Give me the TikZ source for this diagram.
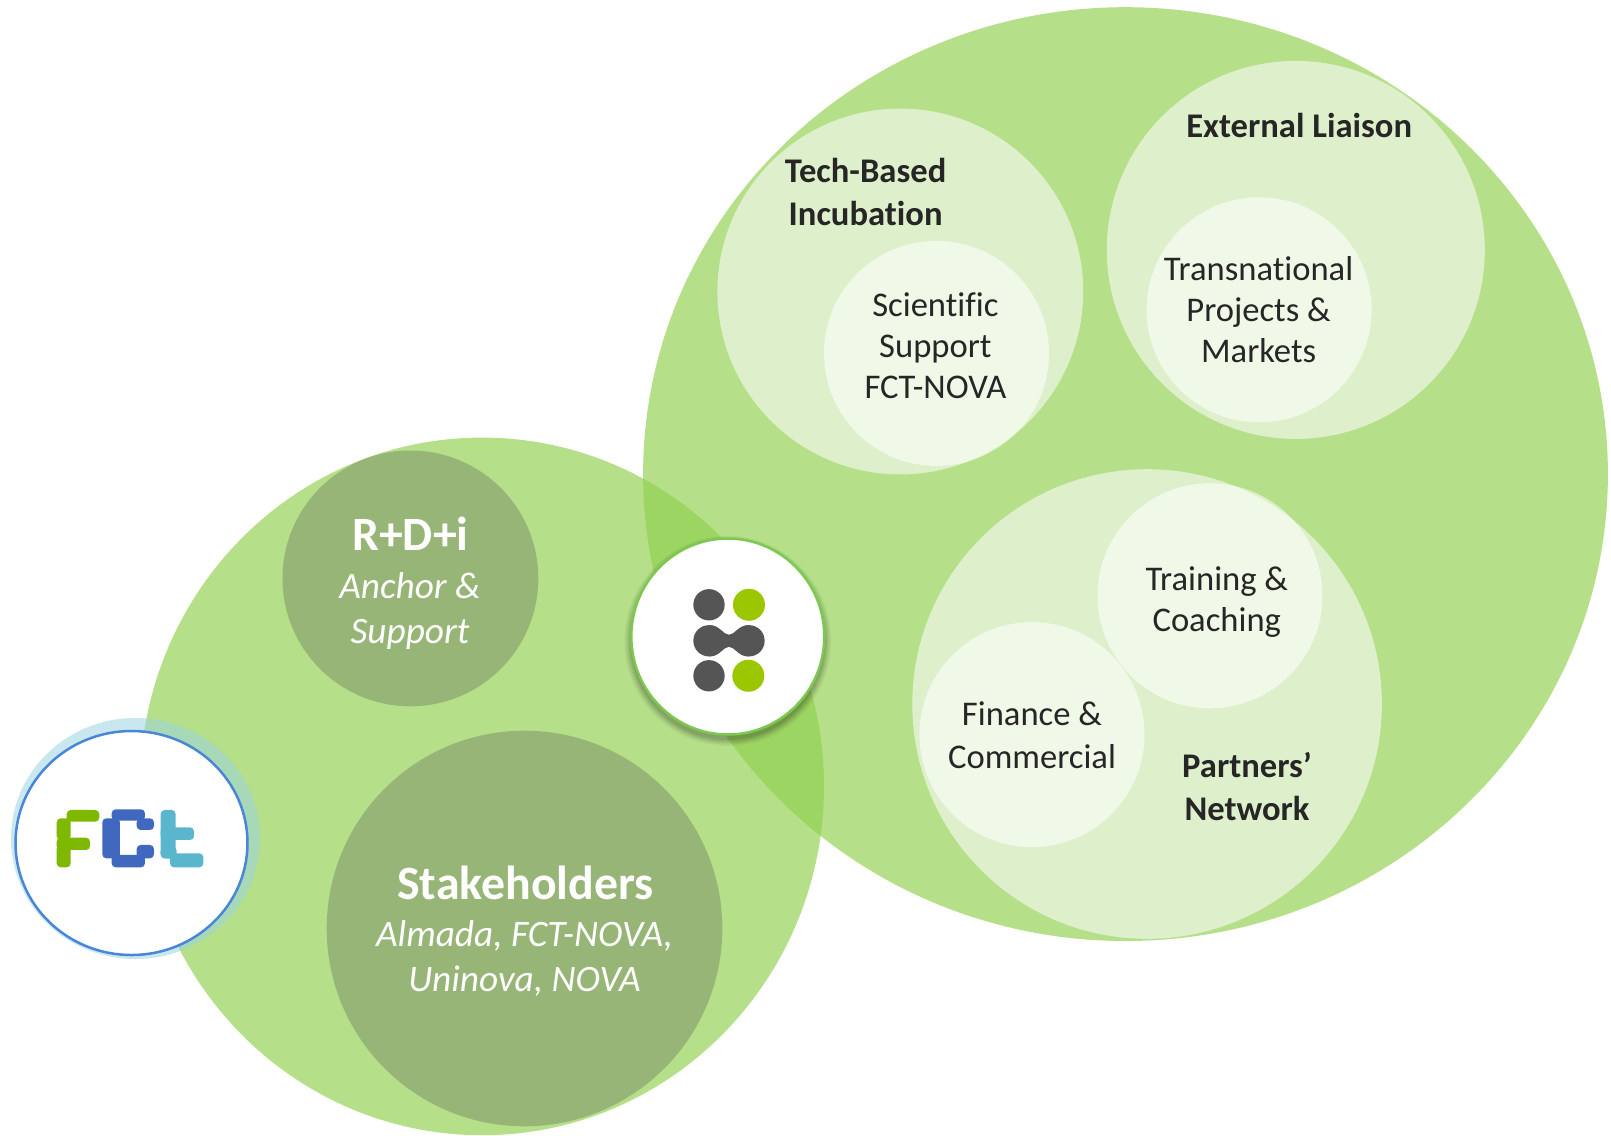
\documentclass[tikz,border=0pt]{standalone}
\usepackage{fontspec}
\setmainfont[Ligatures=NoCommon]{Carlito}
\definecolor{mainG}{HTML}{92D050}
\definecolor{darkG}{HTML}{98B578}
\definecolor{txt}{HTML}{262626}
\definecolor{fctG}{HTML}{7FB800}
\definecolor{fctB}{HTML}{3F68BE}
\definecolor{fctC}{HTML}{5AB6CC}
\definecolor{fctLine}{HTML}{4A86D8}
\definecolor{hubLine}{HTML}{7DC850}
\definecolor{hubGray}{HTML}{555555}
\definecolor{hubG}{HTML}{9BC700}
\tikzset{
  bigc/.style={fill=mainG,fill opacity=.68,draw=none},
  softc/.style={fill=white,fill opacity=.56,draw=none},
  darkc/.style={fill=darkG,draw=none},
  body/.style={text=txt,align=center,inner sep=0pt,font=\fontsize{34.6}{41}\selectfont},
  head/.style={text=txt,align=center,inner sep=0pt,font=\fontsize{34.6}{43}\selectfont\bfseries},
  wtitle/.style={text=white,align=center,inner sep=0pt,font=\fontsize{47.8}{52}\selectfont\bfseries},
  wital/.style={text=white,align=center,inner sep=0pt,font=\fontsize{37.3}{45}\selectfont\itshape},
  fg/.style={fill=fctG,rounded corners=4pt,draw=none},
  fb/.style={fill=fctB,rounded corners=4pt,draw=none},
  fc/.style={fill=fctC,rounded corners=4pt,draw=none},
}
\begin{document}
\begin{tikzpicture}[x=1pt,y=-1pt]
\useasboundingbox (0,0) rectangle (1611,1135);
% large discs
\fill[bigc] (482,786.4) ellipse[x radius=342,y radius=348.8];
\fill[bigc] (1125.5,474.1) ellipse[x radius=482.4,y radius=466.9];
% groups
\fill[softc] (900.3,291.5) circle[radius=182.9];
\fill[softc] (1295.8,249.9) circle[radius=189];
\fill[softc] (1147.1,704) circle[radius=234.8];
% inner discs
\fill[softc] (936.5,353.4) circle[radius=112.5];
\fill[softc] (1259.1,309.8) circle[radius=112.5];
\fill[softc] (1210,595.8) circle[radius=112.5];
\fill[softc] (1032,734.6) circle[radius=112.5];
% dark discs
\fill[darkc] (410.4,578.4) circle[radius=127.9];
\fill[darkc] (524.5,928.5) circle[radius=197.8];
% FCT badge
\fill[fill=fctC!60!white,fill opacity=.55] (135.5,838.5) ellipse[x radius=124.5,y radius=120.5];
\draw[draw=fctLine,fill=white,line width=2.5pt] (131.5,843) ellipse[x radius=116,y radius=112];
\begin{scope}[shift={(0,680)},x=0.3333pt,y=-0.3333pt]
  \fill[fg] (200,390) rectangle (298,425);
  \fill[fg] (170,415) rectangle (212,480);
  \fill[fg] (170,473) rectangle (270,510);
  \fill[fg] (170,495) rectangle (212,562);
  \fill[fb] (335,388) rectangle (435,422);
  \fill[fb] (410,415) rectangle (462,450);
  \fill[fb] (307,415) rectangle (360,535);
  \fill[fb] (335,525) rectangle (435,562);
  \fill[fb] (410,495) rectangle (462,535);
  \fill[fc] (482,390) rectangle (527,535);
  \fill[fc] (482,442) rectangle (582,480);
  \fill[fc] (510,520) rectangle (610,562);
  \fill[fc] (482,500) rectangle (530,535);
\end{scope}
% hub badge with soft shadow
\foreach \r/\o in {7/.04,5.5/.05,4/.06,2.5/.07,1/.08}{
  \fill[black,fill opacity=\o] (727.8,641) ellipse[x radius=96.5+\r,y radius=98+\r];
}
\draw[draw=hubLine,fill=white,line width=2.5pt] (727.8,636.5) ellipse[x radius=96.5,y radius=98];
\begin{scope}[shift={(600,500.8)},x=0.3333pt,y=-0.3333pt]
  \fill[hubGray] (327,312) circle[radius=47pt/3];
  \fill[hubGray] (327,525) circle[radius=47pt/3];
  \fill[hubG] (447,312) circle[radius=48pt/3];
  \fill[hubG] (445,525) circle[radius=48pt/3];
  \fill[hubGray] (327,420) circle[radius=47pt/3];
  \fill[hubGray] (447,420) circle[radius=47pt/3];
  \fill[hubGray] (327,373) .. controls (360,373) and (370,402) .. (387,402)
     .. controls (404,402) and (414,373) .. (447,373)
     -- (447,467)
     .. controls (414,467) and (404,438) .. (387,438)
     .. controls (370,438) and (360,467) .. (327,467) -- cycle;
\end{scope}
% texts
\node[head] (tech) at (865.6,192.1) {Tech-Based\\Incubation};
\node[head] (ext) at (1299.2,125.3) {External Liaison};
\node[body] (sci) at (935.4,346) {Scientific\\Support\\FCT-NOVA};
\node[body] (trans) at (1258.6,309.5) {Transnational\\Projects \&\\Markets};
\node[body] (train) at (1216.8,602) {Training \&\\Coaching};
\node[body,font=\fontsize{34.6}{42.5}\selectfont] (fin) at (1032,735.2) {Finance \&\\Commercial};
\node[head] (part) at (1247,787) {Partners’\\Network};
\node[wtitle] (rd) at (410.4,534.2) {R+D+i};
\node[wital] (anc) at (410,611) {Anchor \&\\Support};
\node[wtitle] (st) at (525.5,882.8) {Stakeholders};
\node[wital] (alm) at (524.5,958.7) {Almada, FCT-NOVA,\\Uninova, NOVA};
\end{tikzpicture}
\end{document}
